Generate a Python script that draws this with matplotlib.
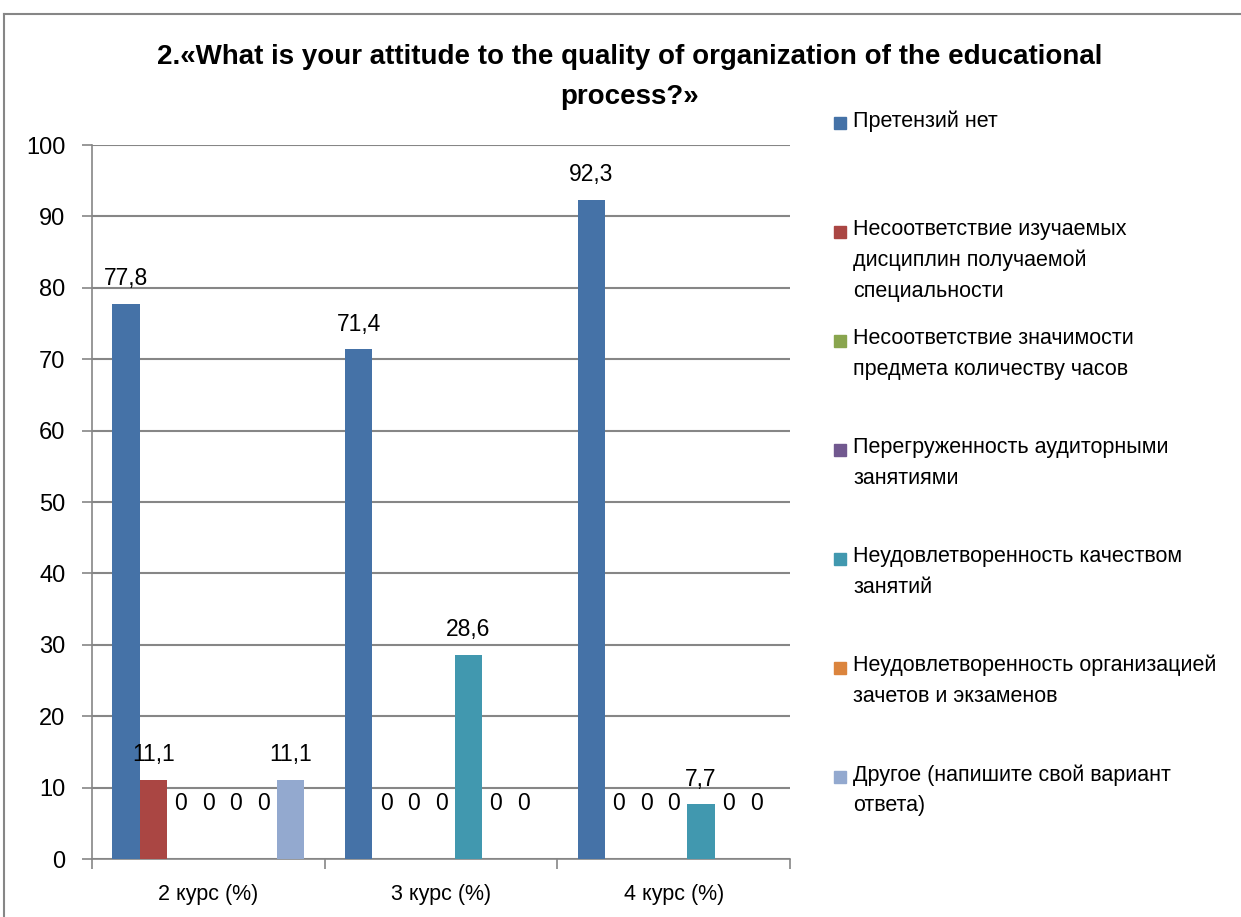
import textwrap
import numpy as np
import matplotlib
matplotlib.use("Agg")
import matplotlib.pyplot as plt
from matplotlib.patches import Rectangle
from matplotlib.lines import Line2D

# данные с диаграммы
courses = ['2 курс (%)', '3 курс (%)', '4 курс (%)']
series_names = [
    'Претензий нет',
    'Несоответствие изучаемых дисциплин получаемой специальности',
    'Несоответствие значимости предмета количеству часов',
    'Перегруженность аудиторными занятиями',
    'Неудовлетворенность качеством занятий',
    'Неудовлетворенность организацией зачетов и экзаменов',
    'Другое (напишите свой вариант ответа)',
]
no_claims = [77.8, 71.4, 92.3]
mismatch_disciplines = [11.1, 0, 0]
mismatch_hours = [0, 0, 0]
overload = [0, 0, 0]
bad_quality = [0, 28.6, 7.7]
bad_exams = [0, 0, 0]
other = [11.1, 0, 0]
values = [no_claims, mismatch_disciplines, mismatch_hours, overload,
          bad_quality, bad_exams, other]
colors = ['#4572A7', '#AA4643', '#89A54E', '#71588F', '#4198AF', '#DB843D', '#93A9CF']

W, H = 1241, 917
plt.rcParams['font.family'] = ['Liberation Sans', 'DejaVu Sans']

fig = plt.figure(figsize=(W / 100, H / 100), dpi=100)
ax = fig.add_axes([92 / W, 1 - 859 / H, (790 - 92) / W, (859 - 145) / H])

x = np.arange(len(courses))
bw = 0.118
for i, (vals, c) in enumerate(zip(values, colors)):
    pos = x + (i - 3) * bw
    ax.bar(pos, vals, width=bw, color=c, zorder=3)
    for px, v in zip(pos, vals):
        lbl = ('%.1f' % v).replace('.', ',') if v else '0'
        off = 25 if v else 55
        ax.annotate(lbl, (px, v), xytext=(0, off), textcoords='offset pixels',
                    ha='center', va='center', fontsize=16.5, zorder=4)

ax.set_xlim(-0.5, 2.5)
ax.set_ylim(0, 100)
ax.set_yticks(range(0, 101, 10))
ax.set_xticks(x)
ax.set_xticklabels(courses, fontsize=15.5)
ax.set_xticks([-0.5, 0.5, 1.5, 2.5], minor=True)
ax.tick_params(axis='x', which='major', length=0, pad=18)
ax.tick_params(axis='x', which='minor', length=7, color='#868686', width=1.2)
ax.tick_params(axis='y', labelsize=17, length=7, color='#868686', width=1.2, pad=12)
ax.grid(axis='y', color='#868686', linewidth=1.5, zorder=0)
for s in ['top', 'right']:
    ax.spines[s].set_visible(False)
for s in ['left', 'bottom']:
    ax.spines[s].set_color('#868686')
    ax.spines[s].set_linewidth(1.2)

# заголовок
fig.text(630 / W, 1 - 77 / H,
         '2.«What is your attitude to the quality of organization of the educational\nprocess?»',
         ha='center', va='center', fontsize=20, fontweight='bold', linespacing=1.75)

# легенда вручную
for i, (name, c) in enumerate(zip(series_names, colors)):
    yc = 123 + i * 109
    fig.add_artist(Rectangle((834 / W, 1 - (yc + 6) / H), 12 / W, 12 / H,
                             transform=fig.transFigure, color=c))
    fig.text(853 / W, 1 - (yc - 13) / H, '\n'.join(textwrap.wrap(name, 32)),
             ha='left', va='top', fontsize=15.5, linespacing=1.6)

# рамка
fig.add_artist(Line2D([4 / W, 4 / W], [0, 1 - 14 / H], transform=fig.transFigure,
                      color='#868686', linewidth=1.5))
fig.add_artist(Line2D([4 / W, 1], [1 - 14 / H, 1 - 14 / H], transform=fig.transFigure,
                      color='#868686', linewidth=1.5))

fig.savefig('out.png', dpi=100)
